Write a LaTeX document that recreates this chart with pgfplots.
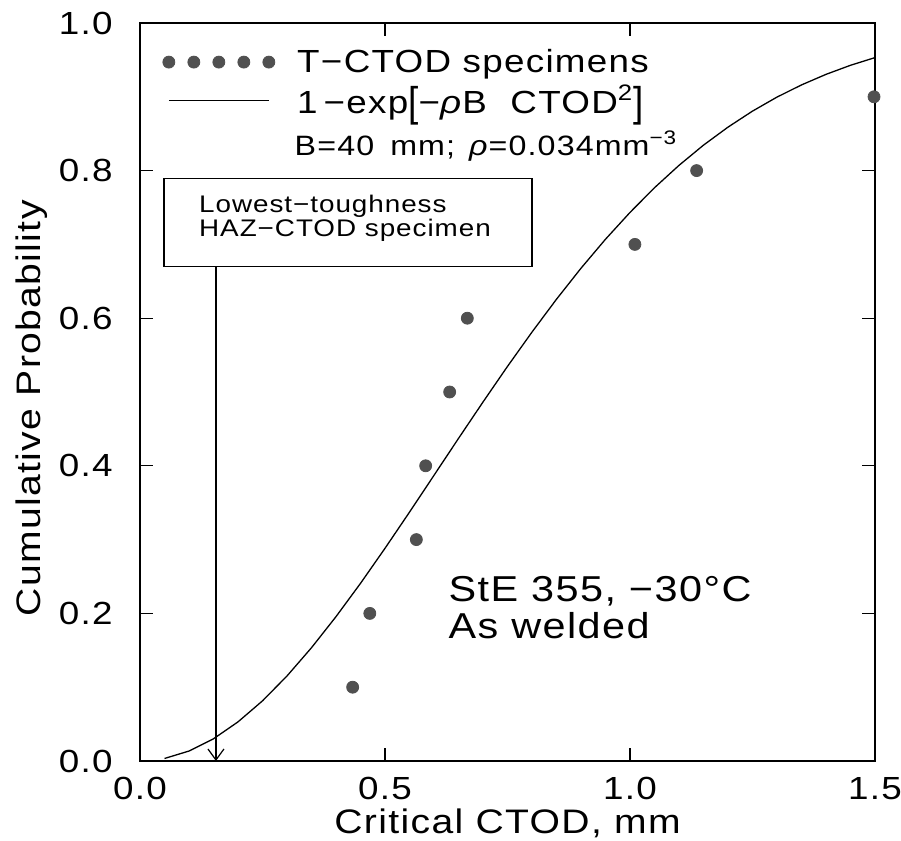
\documentclass[border=0pt]{standalone}
\usepackage{pgfplots}
\pgfplotsset{compat=1.18}
\usepackage{graphicx}
\usepackage{fontspec}
\setmainfont{Liberation Sans}[FakeStretch=1.15,LetterSpace=4]
\newfontfamily\boxfont{Liberation Sans}[FakeStretch=1.16,LetterSpace=4]
\usetikzlibrary{arrows.meta}
\definecolor{dotc}{RGB}{80,80,80}

\begin{document}
\begin{tikzpicture}
\useasboundingbox (-70pt,-40pt) rectangle (380.5pt,380.5pt);
\begin{axis}[
  scale only axis, width=367.5pt, height=369pt,
  xmin=0, xmax=1.5, ymin=0, ymax=1,
  xtick={0,0.5,1,1.5}, ytick={0,0.2,0.4,0.6,0.8,1.0},
  tick align=inside, major tick length=6.5pt,
  tick style={black, line width=0.6pt},
  axis line style={line width=0.7pt},
  /pgf/number format/fixed,
  /pgf/number format/fixed zerofill,
  /pgf/number format/precision=1,
  /pgf/number format/assume math mode=true,
  ticklabel style={font=\fontsize{16}{19}\selectfont, inner sep=0pt},
  xticklabel shift=8pt,
  yticklabel shift=13.5pt,
  xlabel={Critical CTOD, mm},
  ylabel={Cumulative Probability},
  xlabel style={font=\fontsize{17}{20}\selectfont, at={(axis description cs:0.5,-0.084)}, anchor=center, inner sep=0pt},
  ylabel style={font=\fontsize{17}{20}\selectfont, at={(axis description cs:-0.147,0.478)}, anchor=center, inner sep=0pt},
  clip=false,
  legend cell align=left,
  legend style={at={(axis cs:0.045,0.968)}, anchor=north west, draw=none, fill=none,
    font=\fontsize{16}{19}\selectfont, inner sep=0pt, row sep=3pt, column sep=10pt,
    nodes={inner sep=1pt}},
]
\addplot[only marks, mark=*, mark size=3pt, color=dotc, mark options={fill=dotc, draw=dotc},
  legend image code/.code={\foreach \k in {0,1,2,3,4}{\fill[dotc] (\k*12.5pt,0pt) circle (3pt);}}]
  coordinates {(0.434,0.1)(0.469,0.2)(0.564,0.3)(0.583,0.4)(0.632,0.5)(0.668,0.6)(1.010,0.7)(1.136,0.8)(1.498,0.9)};
\addlegendentry{T−CTOD specimens}
\addplot[black, line width=0.65pt, mark=none,
  legend image code/.code={\draw[black, line width=0.65pt] (0pt,0pt) -- (50pt,0pt);}]
  coordinates {(0.05,0.0034)(0.10,0.0135)(0.15,0.0301)(0.20,0.0530)(0.25,0.0815)(0.30,0.1152)(0.35,0.1535)(0.40,0.1956)(0.45,0.2407)(0.50,0.2882)(0.55,0.3372)(0.60,0.3871)(0.65,0.4371)(0.70,0.4864)(0.75,0.5347)(0.80,0.5812)(0.85,0.6257)(0.90,0.6677)(0.95,0.7070)(1.00,0.7433)(1.05,0.7768)(1.10,0.8071)(1.15,0.8345)(1.20,0.8589)(1.25,0.8806)(1.30,0.8996)(1.35,0.9161)(1.40,0.9304)(1.45,0.9427)(1.50,0.9531)};
\addlegendentry{1\hspace{3pt}−exp\raisebox{-1.5pt}{\scalebox{1}[1.3]{[}}−\textit{ρ}B\hspace{6pt} CTOD\textsuperscript{2}\raisebox{-1.5pt}{\scalebox{1}[1.3]{]}}}

\node[anchor=base west, font=\fontsize{14}{17}\selectfont, inner sep=0pt] at (axis cs:0.315,0.821) {B=40\hspace{3pt} mm;\hspace{2pt} \textit{ρ}=0.034mm\textsuperscript{−3}};

\draw[line width=0.6pt] (axis cs:0.049,0.670) rectangle (axis cs:0.800,0.789);
\node[anchor=north west, align=left, font=\boxfont\fontsize{12}{10.5}\selectfont, inner sep=0pt] at (axis cs:0.12,0.768) {Lowest−toughness\\HAZ−CTOD specimen};
\draw[line width=0.6pt, -{Straight Barb[length=5.5pt,width=8pt]}] (axis cs:0.155,0.670) -- (axis cs:0.155,0);

\node[anchor=base west, font=\fontsize{18}{21}\selectfont, inner sep=0pt] at (axis cs:0.629,0.2159) {StE 355, −30°C};
\node[anchor=base west, font=\fontsize{18}{21}\selectfont, inner sep=0pt] at (axis cs:0.629,0.1662) {As welded};
\end{axis}
\end{tikzpicture}
\end{document}
